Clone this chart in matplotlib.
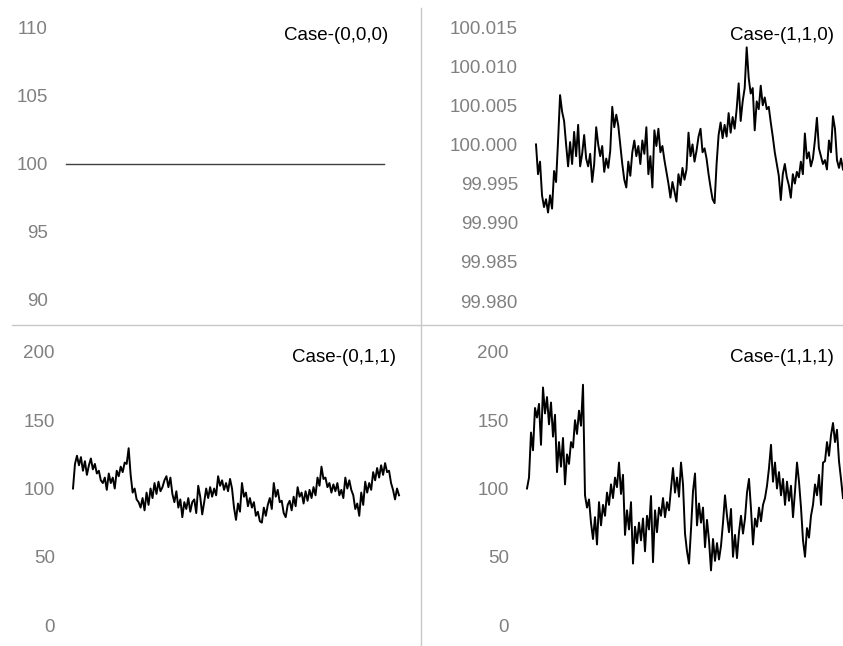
import numpy as np
import matplotlib.pyplot as plt
from matplotlib.lines import Line2D

plt.rcParams['font.family'] = ['Liberation Sans', 'DejaVu Sans']

# series for each case
c000 = [100.0, 100.0, 100.0, 100.0, 100.0]

c110 = [100.0000,
        99.9962, 99.9978, 99.9935, 99.9920, 99.9930, 99.9913, 99.9935, 99.9918,
        99.9966, 99.9952, 100.0005, 100.0063, 100.0042, 100.0030, 100.0000,
        99.9972, 100.0003, 99.9975, 100.0016, 99.9985, 100.0025, 99.9972, 99.9988,
        100.0012, 99.9982, 99.9972, 99.9988, 99.9952, 99.9975, 100.0022, 100.0000,
        99.9985, 99.9998, 99.9965, 99.9982, 99.9970, 99.9992, 100.0048, 100.0022,
        100.0038, 100.0024, 100.0000, 99.9975, 99.9955, 99.9945, 99.9978, 99.9960,
        99.9990, 100.0005, 99.9985, 99.9998, 99.9975, 100.0005, 99.9988, 100.0022,
        99.9962, 99.9985, 99.9945, 100.0018, 99.9998, 100.0020, 99.9990, 99.9998,
        99.9980, 99.9965, 99.9950, 99.9932, 99.9952, 99.9940, 99.9927, 99.9962,
        99.9948, 99.9970, 99.9955, 99.9968, 100.0015, 99.9985, 100.0000, 99.9978,
        99.9992, 100.0010, 100.0020, 99.9990, 99.9995, 99.9982, 99.9962, 99.9945,
        99.9930, 99.9925, 99.9975, 100.0012, 100.0028, 100.0008, 100.0025, 100.0010,
        100.0040, 100.0015, 100.0035, 100.0020, 100.0045, 100.0078, 100.0030, 100.0055,
        100.0072, 100.0124, 100.0085, 100.0065, 100.0072, 100.0018, 100.0055, 100.0045,
        100.0075, 100.0050, 100.0060, 100.0045, 100.0048, 100.0028, 100.0010, 99.9990,
        99.9975, 99.9960, 99.9929, 99.9962, 99.9975, 99.9958, 99.9948, 99.9932,
        99.9962, 99.9950, 99.9965, 99.9958, 99.9978, 99.9962, 100.0014, 99.9982,
        99.9990, 99.9972, 99.9982, 100.0005, 100.0034, 99.9995, 99.9985, 99.9975,
        99.9980, 99.9968, 100.0005, 99.9990, 100.0036, 100.0020, 99.9980, 99.9970,
        99.9982, 99.9968]

c011 = [100, 118, 124, 117, 123, 113, 120, 110, 117, 122, 114, 118, 111,
        113, 106, 104, 108, 99, 111, 104, 108, 100, 113, 109, 116, 112, 119,
        118, 129.5, 110, 97, 100, 92, 90, 86, 93, 84, 97, 88, 100, 93,
        104, 96, 105, 98, 101, 106, 109, 101, 108, 96, 90, 98, 86, 92,
        79, 90, 85, 93, 83, 90, 92, 82, 102, 94, 81, 90, 100, 93,
        101, 94, 100, 95, 109, 102, 106, 99, 104, 98, 107, 100, 86, 77,
        89, 83, 104, 94, 97, 87, 93, 86, 90, 80, 83, 76, 75, 86,
        80, 88, 93, 85, 104, 94, 99, 90, 91, 82, 79, 88, 91, 84,
        94, 87, 101, 94, 97, 89, 98, 91, 99, 93, 101, 95, 108, 102,
        116, 107, 108, 101, 104, 97, 103, 98, 104, 95, 99, 93, 108, 100,
        106, 99, 95, 85, 89, 80, 97, 88, 105, 97, 104, 99, 112, 106,
        115, 108, 117, 110, 118.6, 112, 113, 104, 99, 92, 100, 95]

c111 = [100, 108, 141, 128, 159, 152, 162, 132, 174, 155, 167, 147, 163,
        138, 154, 112, 134, 116, 137, 103, 125, 118, 134, 130, 150, 140, 157,
        146, 176, 95, 86, 92, 75, 63, 79, 59, 90, 73, 88, 80, 97,
        88, 103, 93, 108, 101, 119, 96, 110, 66, 84, 70, 90, 45, 72,
        60, 75, 62, 78, 54, 80, 70, 94.5, 46, 84, 68, 86, 80, 93,
        79, 90, 84, 100, 115, 97, 108, 94, 119, 103, 67, 54, 45, 70,
        98, 111, 73, 89, 75, 86, 57, 77, 62, 40, 63, 47, 60, 48,
        58, 75, 95, 80, 68, 85, 50, 66, 49, 68, 80, 67, 78, 97,
        107, 85, 59, 78, 72, 86, 76, 88, 93, 102, 115, 132, 105, 119,
        100, 112, 95, 107, 88, 105, 91, 102, 79, 98, 119, 105, 86, 62,
        50, 71, 64, 80, 88, 103, 95, 110, 88, 119, 120, 134, 124, 139,
        148, 134, 143, 120, 107, 93]

titles = ['Case-(0,0,0)', 'Case-(1,1,0)', 'Case-(0,1,1)', 'Case-(1,1,1)']
ticks000 = [90, 95, 100, 105, 110]
ticks110 = [99.980, 99.985, 99.990, 99.995, 100.000, 100.005, 100.010, 100.015]
ticks011 = [0, 50, 100, 150, 200]

W, H = 843, 646
fig = plt.figure(figsize=(W / 100, H / 100), dpi=100)


def panel(x0, x1, ytop, ybot, data, ticks, fmt, color, lw, title, title_x, title_y):
    # panel placed in pixel units, y measured from the top of the figure
    ax = fig.add_axes([x0 / W, (H - ybot) / H, (x1 - x0) / W, (ybot - ytop) / H])
    ax.plot(np.arange(len(data)), data, color=color, lw=lw, clip_on=False)
    ax.set_xlim(0, len(data) - 1)
    ax.set_ylim(ticks[0], ticks[-1])
    ax.set_yticks(ticks)
    ax.set_yticklabels([fmt.format(t) for t in ticks])
    ax.tick_params(axis='y', length=0, pad=13, labelsize=13.5, labelcolor='#808080')
    ax.set_xticks([])
    for s in ax.spines.values():
        s.set_visible(False)
    ax.patch.set_visible(False)
    fig.text(title_x / W, (H - title_y) / H, title, ha='right', va='center',
             fontsize=13.5, color='black')
    return ax


panel(66, 384, 27, 300, c000, ticks000, '{:.0f}', '#404040', 1.0, titles[0], 388, 35)
panel(536, 843, 27, 301, c110, ticks110, '{:.3f}', 'black', 1.4, titles[1], 834, 35)
panel(73, 399, 352, 625, c011, ticks011, '{:.0f}', 'black', 1.4, titles[2], 396, 358)
panel(527, 843, 352, 625, c111, ticks011, '{:.0f}', 'black', 1.4, titles[3], 834, 358)

# divider lines between the four panels
fig.add_artist(Line2D([421 / W, 421 / W], [0, (H - 8) / H], color='#c8c8c8', lw=1))
fig.add_artist(Line2D([12 / W, 1], [(H - 325) / H, (H - 325) / H], color='#c8c8c8', lw=1))

plt.savefig('out.png', dpi=100)
